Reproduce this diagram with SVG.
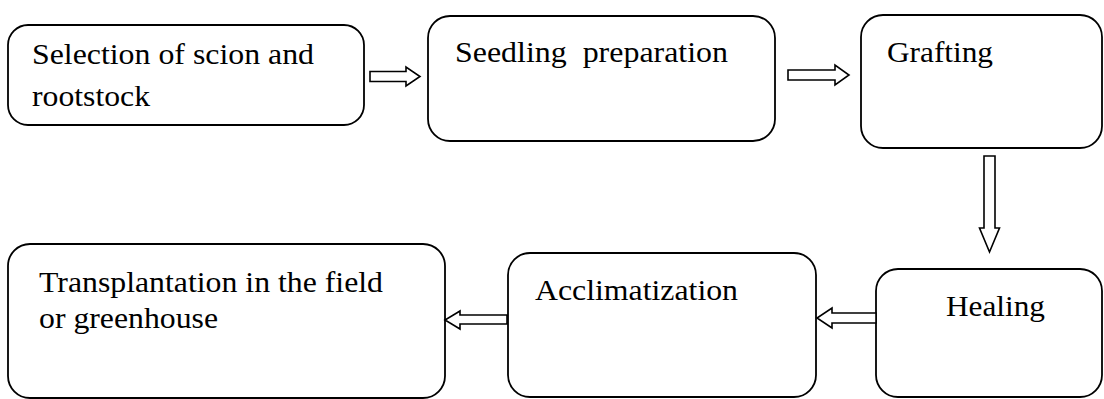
<svg xmlns="http://www.w3.org/2000/svg" width="1104" height="399" viewBox="0 0 1104 399">
<style>
.box{fill:#fff;stroke:#000;stroke-width:1.8}
.arr{fill:#fff;stroke:#000;stroke-width:1.6;stroke-linejoin:miter}
text{font-family:'Liberation Serif','Times New Roman',Times,serif;font-size:29px;fill:#000}
</style>
<rect width="1104" height="399" fill="#fff"/>
<g id="node-selection">
<rect class="box" x="8" y="25" width="356" height="100" rx="20"/>
<text x="32" y="64" textLength="282" lengthAdjust="spacingAndGlyphs">Selection of scion and</text>
<text x="32" y="106" textLength="118" lengthAdjust="spacingAndGlyphs">rootstock</text>
</g>
<g id="node-seedling">
<rect class="box" x="428" y="16" width="347" height="125" rx="22"/>
<text x="455" y="62" textLength="273" lengthAdjust="spacingAndGlyphs" xml:space="preserve">Seedling  preparation</text>
</g>
<g id="node-grafting">
<rect class="box" x="861" y="15" width="241" height="133" rx="22"/>
<text x="887" y="62" textLength="106" lengthAdjust="spacingAndGlyphs">Grafting</text>
</g>
<g id="node-healing">
<rect class="box" x="876" y="269" width="226" height="128" rx="22"/>
<text x="946" y="316" textLength="99" lengthAdjust="spacingAndGlyphs">Healing</text>
</g>
<g id="node-acclimatization">
<rect class="box" x="508" y="253" width="308" height="144" rx="22"/>
<text x="535" y="300" textLength="203" lengthAdjust="spacingAndGlyphs">Acclimatization</text>
</g>
<g id="node-transplantation">
<rect class="box" x="8" y="244" width="437" height="154" rx="22"/>
<text x="39" y="292" textLength="344" lengthAdjust="spacingAndGlyphs">Transplantation in the field</text>
<text x="39" y="328" textLength="179" lengthAdjust="spacingAndGlyphs">or greenhouse</text>
</g>
<g id="connectors">
<polygon class="arr" points="370,71.5 406,71.5 406,67 420,76.5 406,86 406,81.5 370,81.5"/>
<polygon class="arr" points="788,70 835,70 835,65 849,75 835,85 835,80 788,80"/>
<polygon class="arr" points="984,156 995,156 995,228 999.5,228 989.5,252 979.5,228 984,228"/>
<polygon class="arr" points="876,313 832,313 832,308 817,318 832,328 832,323 876,323"/>
<polygon class="arr" points="507,315 460,315 460,311 445,320 460,329 460,324 507,324"/>
</g>
</svg>
